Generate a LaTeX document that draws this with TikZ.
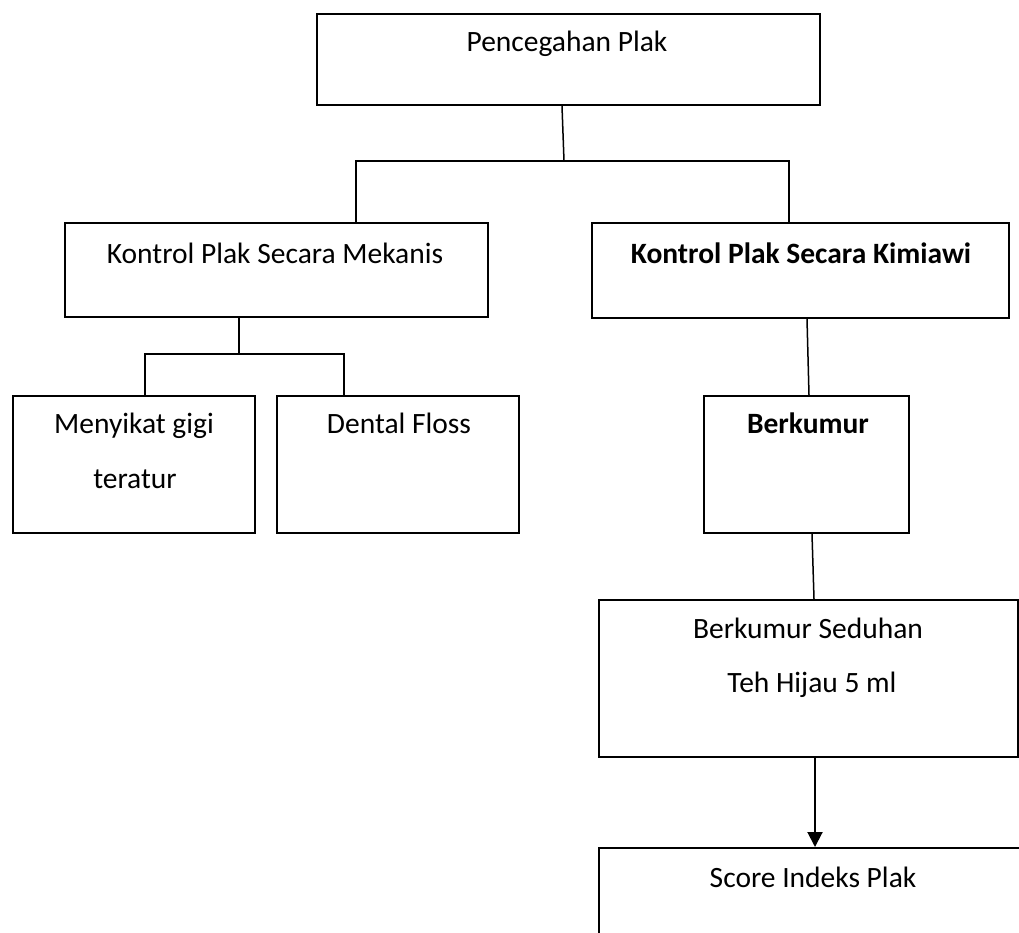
\documentclass[tikz,border=0pt]{standalone}
\usepackage{fontspec}
\setmainfont{Carlito}
\usetikzlibrary{arrows.meta,calc}
\begin{document}
\begin{tikzpicture}[x=1pt,y=-1pt,
  box/.style={draw, line width=2.2pt, rectangle, inner sep=0pt, anchor=north west},
  txt/.style={inner sep=0pt, anchor=base, font=\fontsize{29.5}{35}\selectfont},
  btxt/.style={txt, font=\fontsize{29.5}{35}\selectfont\bfseries},
  link/.style={line width=1.5pt},
  arrowlink/.style={line width=2pt, -{Triangle[width=15pt,length=15pt]}}]
\useasboundingbox (0,0) rectangle (1019,933);
\clip (0,0) rectangle (1019,933);
% boxes
\node[box, minimum width=503pt, minimum height=91pt] (top) at (316,13) {};
\node[box, minimum width=423pt, minimum height=94pt] (mek) at (64,222) {};
\node[box, minimum width=417pt, minimum height=95pt] (kim) at (591,222) {};
\node[box, minimum width=242pt, minimum height=137pt] (gigi) at (12,395) {};
\node[box, minimum width=242pt, minimum height=137pt] (floss) at (276,395) {};
\node[box, minimum width=205pt, minimum height=137pt] (ber) at (703,395) {};
\node[box, minimum width=419pt, minimum height=157pt] (teh) at (598,599) {};
\node[box, minimum width=500pt, minimum height=200pt] (score) at (598,847) {};
% texts
\node[txt] (topT) at (567,52) {Pencegahan Plak};
\node[txt] (mekT) at (275,263) {Kontrol Plak Secara Mekanis};
\node[btxt] (kimT) at (801,263) {Kontrol Plak Secara Kimiawi};
\node[txt] (gigiT1) at (134,433) {Menyikat gigi};
\node[txt] (gigiT2) at (135,488) {teratur};
\node[txt] (flossT) at (399,433) {Dental Floss};
\node[btxt] (berT) at (808,433) {Berkumur};
\node[txt] (tehT1) at (808,638) {Berkumur Seduhan};
\node[txt] (tehT2) at (812,692) {Teh Hijau 5 ml};
\node[txt] (scoreT) at (813,887) {Score Indeks Plak};
% connectors
\coordinate (j1) at (564,161);
\coordinate (a1) at (356,222);
\coordinate (a2) at (789,222);
\draw[link] ($(top.south west)+(246,0)$) -- (j1);
\draw[link] (a1) |- (j1) -| (a2);
\coordinate (j2) at (239,354);
\coordinate (b1) at (145,395);
\coordinate (b2) at (344,395);
\draw[link] (mek.south -| j2) -- (j2);
\draw[link] (b1) |- (j2) -| (b2);
\draw[link] ($(kim.south west)+(216,0)$) -- ($(ber.north west)+(106,0)$);
\draw[link] ($(ber.south west)+(109,0)$) -- ($(teh.north west)+(216,0)$);
\draw[arrowlink] ($(teh.south west)+(217,0)$) -- ($(score.north west)+(217,0)$);
\end{tikzpicture}
\end{document}
